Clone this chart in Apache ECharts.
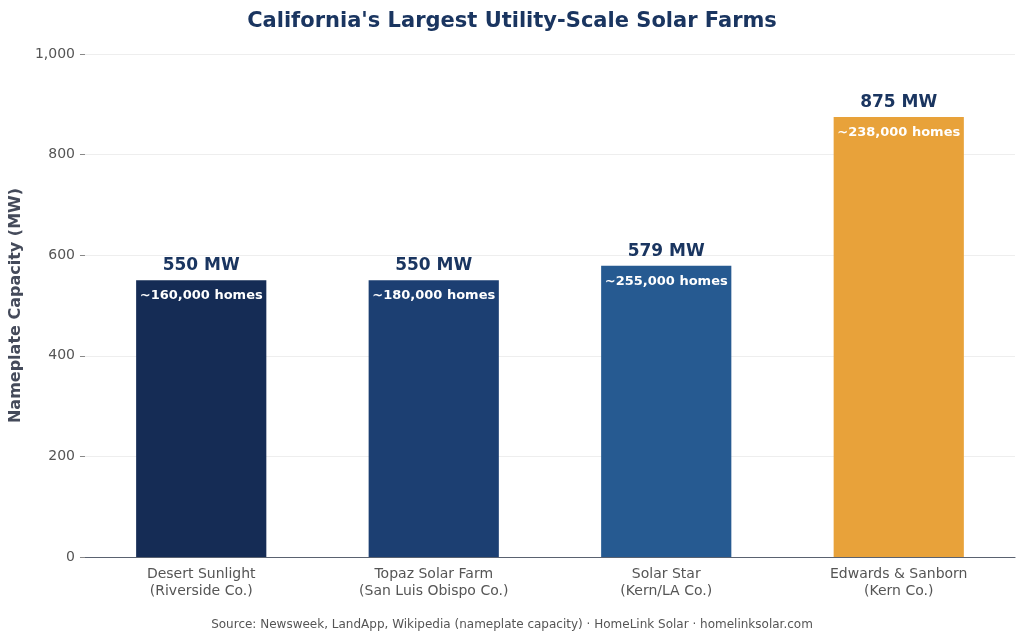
<!DOCTYPE html>
<html lang="en">
<head>
<meta charset="UTF-8">
<title>California Solar Farms</title>
<script src="https://cdn.jsdelivr.net/npm/echarts@6/dist/echarts.min.js"></script>
<style>html,body{margin:0;padding:0;background:#fff;}</style>
</head>
<body>
<div id="main" style="width:1024px;height:643px;"></div>
<script>
var categories = ['Desert Sunlight\n(Riverside Co.)', 'Topaz Solar Farm\n(San Luis Obispo Co.)', 'Solar Star\n(Kern/LA Co.)', 'Edwards & Sanborn\n(Kern Co.)'];
var capacity = [550, 550, 579, 875];
var homes = ['~160,000 homes', '~180,000 homes', '~255,000 homes', '~238,000 homes'];
var colors = ['#152c55', '#1c3f72', '#265a91', '#e8a23a'];

var font = 'DejaVu Sans';
var chart = echarts.init(document.getElementById('main'));
chart.setOption({
    textStyle: { fontFamily: font },
    title: {
        text: "California's Largest Utility-Scale Solar Farms",
        left: 'center', top: 6,
        textStyle: { fontFamily: font, fontSize: 21, fontWeight: 'bold', color: '#1a3560' }
    },
    graphic: [{
        type: 'text', left: 'center', top: 619,
        style: { text: 'Source: Newsweek, LandApp, Wikipedia (nameplate capacity) · HomeLink Solar · homelinksolar.com',
                 font: '12px DejaVu Sans', fill: '#555' }
    }],
    grid: { left: 78, right: 9, top: 54, bottom: 86 },
    xAxis: {
        type: 'category',
        data: categories,
        axisLine: { lineStyle: { color: '#5a6270', width: 1.2 } },
        axisTick: { show: false },
        axisLabel: { color: '#555', fontSize: 14, lineHeight: 17, margin: 9 }
    },
    yAxis: {
        type: 'value', min: 0, max: 1000, interval: 200,
        name: 'Nameplate Capacity (MW)', nameLocation: 'middle', nameGap: 50,
        nameTextStyle: { fontSize: 16, fontWeight: 'bold', color: '#444a5a' },
        axisLine: { show: false },
        axisTick: { show: true, length: 5, lineStyle: { color: '#888' } },
        axisLabel: { color: '#555', fontSize: 14, margin: 10 },
        splitLine: { lineStyle: { color: '#eeeeee' } }
    },
    series: [{
        type: 'bar',
        data: capacity.map(function (v, i) { return { value: v, itemStyle: { color: colors[i] } }; }),
        barWidth: '56%',
        label: {
            show: true, position: 'top', distance: 6,
            formatter: '{c} MW',
            fontSize: 17, fontWeight: 'bold', color: '#1a3560'
        }
    }, {
        type: 'bar',
        data: capacity,
        barWidth: '56%',
        barGap: '-100%',
        itemStyle: { color: 'rgba(0,0,0,0)' },
        label: {
            show: true, position: 'insideTop', distance: 9,
            formatter: function (p) { return homes[p.dataIndex]; },
            fontSize: 13, fontWeight: 'bold', color: '#fff'
        }
    }]
});
</script>
</body>
</html>
